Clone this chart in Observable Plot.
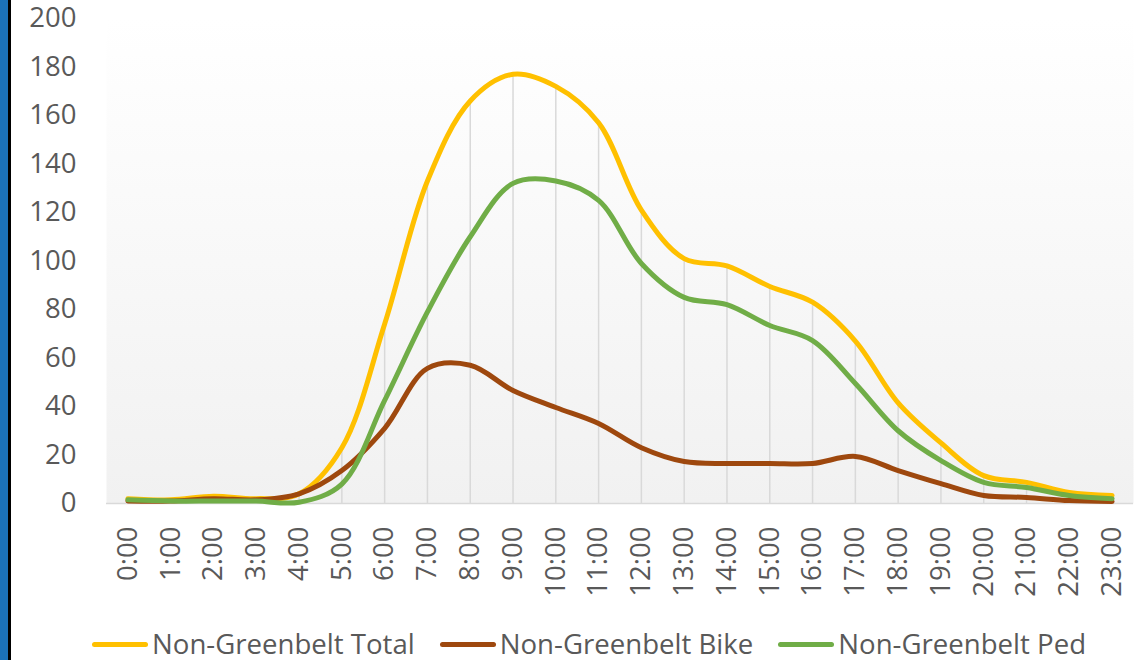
<!DOCTYPE html>
<html>
<head>
<meta charset="utf-8">
<script src="https://cdn.jsdelivr.net/npm/d3@7"></script>
<script src="https://cdn.jsdelivr.net/npm/@observablehq/plot@0.6"></script>
<style>
  html, body { margin: 0; padding: 0; background: #fff; width: 1140px; height: 660px; overflow: hidden; }
  #wrap { position: relative; width: 1140px; height: 660px; }
  #stripe { position: absolute; left: 0; top: 0; width: 8px; height: 660px; background: #1b72ba; }
  #stripe2 { position: absolute; left: 8px; top: 0; width: 3px; height: 660px; background: #000; }
  #chart { position: absolute; left: 0; top: 0; }
  #chart svg { overflow: visible; }
  #legend { position: absolute; left: 92px; top: 626px; height: 36px; display: flex; align-items: center; gap: 25px;
            font-family: "Open Sans", sans-serif; font-size: 27.6px; line-height: 1; color: #595959; }
  .item { display: flex; align-items: center; gap: 4px; white-space: nowrap; }
  .sw { width: 56px; height: 5px; border-radius: 3px; }
</style>
</head>
<body>
<div id="wrap">
  <div id="chart"></div>
  <div id="stripe"></div>
  <div id="stripe2"></div>
  <div id="legend"></div>
</div>
<script>
const hours = ["0:00","1:00","2:00","3:00","4:00","5:00","6:00","7:00","8:00","9:00","10:00","11:00",
               "12:00","13:00","14:00","15:00","16:00","17:00","18:00","19:00","20:00","21:00","22:00","23:00"];
const totalValues = [2,1.5,3,2,4,23,74,133,166,177,172,157,121,101,98,89.5,83,67,41.5,25,11.5,8.7,4.5,3.3];
const bikeValues  = [1,1,2,1.5,4,13.6,31,55.7,57,46.6,39.6,33,23,17.3,16.5,16.5,16.5,19.4,13.6,8.2,3.3,2.5,1.2,0.8];
const pedValues   = [1.5,1,1,1,0.5,8,42.5,79,110,132,133,125,99,85,82,73.4,67.2,49.5,30,17.7,8.7,6.6,3.3,2];
const seriesNames = ["Non-Greenbelt Total","Non-Greenbelt Bike","Non-Greenbelt Ped"];
const seriesColors = ["#FFC000","#9E480E","#70AD47"];
const yTicks = [0,20,40,60,80,100,120,140,160,180,200];

const seriesValues = [totalValues, bikeValues, pedValues];
const rows = [];
seriesNames.forEach((name, s) => hours.forEach((h, i) => rows.push({series: name, hour: h, value: seriesValues[s][i]})));
const dropRows = hours.map((h, i) => ({hour: h, top: totalValues[i]}));

const W = 1140, H = 610;
const chart = Plot.plot({
  width: W,
  height: H,
  marginLeft: 106,
  marginRight: 7,
  marginTop: 18,
  marginBottom: H - 503,
  style: {fontFamily: "Open Sans, sans-serif", fontSize: "27.5px", color: "#595959", background: "transparent", overflow: "visible"},
  x: {type: "point", domain: hours, padding: 0.5, round: false, label: null},
  y: {domain: [0, 200], label: null},
  color: {domain: seriesNames, range: seriesColors},
  marks: [
    () => {
      const defs = d3.create("svg:defs");
      const g = defs.append("linearGradient").attr("id", "bgGrad").attr("x1", 0).attr("y1", 0).attr("x2", 0).attr("y2", 1);
      g.append("stop").attr("offset", "0%").attr("stop-color", "#ffffff");
      g.append("stop").attr("offset", "100%").attr("stop-color", "#f1f1f1");
      return defs.node();
    },
    Plot.frame({fill: "url(#bgGrad)", stroke: null}),
    Plot.ruleX(dropRows, {x: "hour", y1: 0, y2: "top", stroke: "#d9d9d9", strokeWidth: 1.5}),
    Plot.ruleY([0], {stroke: "#d9d9d9", strokeWidth: 1.5}),
    Plot.axisY({ticks: yTicks, tickSize: 0, tickPadding: 30, label: null, fill: "#595959"}),
    Plot.axisX({tickSize: 0, tickPadding: 23, tickRotate: -90, label: null, fill: "#595959"}),
    Plot.line(rows, {x: "hour", y: "value", z: "series", stroke: "series", strokeWidth: 5,
                     curve: "catmull-rom", strokeLinecap: "round", strokeLinejoin: "round"})
  ]
});
document.getElementById("chart").appendChild(chart);

const legend = document.getElementById("legend");
seriesNames.forEach((name, i) => {
  const item = document.createElement("div");
  item.className = "item";
  const sw = document.createElement("div");
  sw.className = "sw";
  sw.style.background = seriesColors[i];
  const t = document.createElement("span");
  t.textContent = name;
  item.appendChild(sw);
  item.appendChild(t);
  legend.appendChild(item);
});
</script>
</body>
</html>
